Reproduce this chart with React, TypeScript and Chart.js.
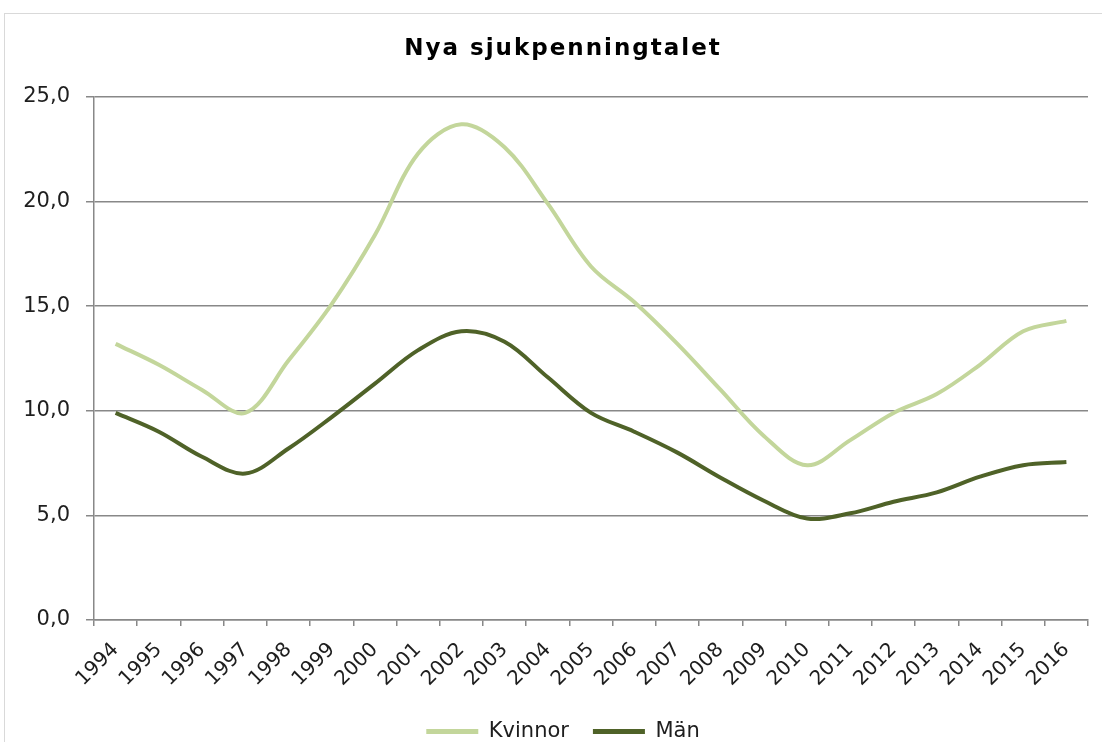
import React, { useEffect, useRef } from "react";
import { Chart, registerables } from "chart.js";

Chart.register(...registerables);

const TITLE = "Nya sjukpenningtalet";
const years = [
  "1994", "1995", "1996", "1997", "1998", "1999", "2000", "2001", "2002", "2003", "2004", "2005",
  "2006", "2007", "2008", "2009", "2010", "2011", "2012", "2013", "2014", "2015", "2016",
];
const kvinnor = [13.2, 12.2, 11.0, 9.9, 12.4, 15.1, 18.4, 22.3, 23.7, 22.6, 19.9, 16.9, 15.2, 13.2, 11.0, 8.8, 7.4, 8.6, 9.9, 10.8, 12.2, 13.8, 14.3];
const man = [9.9, 9.0, 7.8, 7.0, 8.2, 9.7, 11.3, 12.9, 13.8, 13.3, 11.6, 9.9, 9.0, 8.0, 6.8, 5.7, 4.85, 5.1, 5.65, 6.1, 6.85, 7.4, 7.55];
const seriesNames = ["Kvinnor", "Män"];
const seriesColors = ["#c3d69b", "#4f6228"];
const yMin = 0;
const yMax = 25;
const yStep = 5;

const FONT = '"DejaVu Sans", Verdana, sans-serif';
const GRID = "#888888";
const TEXT = "#1e1e1e";
const CENTER_X = 563;

const titlePlugin = {
  id: "wideTitle",
  afterLayout(chart: any) {
    const lg = chart.legend;
    if (lg) {
      const d = CENTER_X - (lg.left + lg.right) / 2;
      lg.left += d;
      lg.right += d;
    }
  },
  afterDraw(chart: any) {
    const ctx = chart.ctx as CanvasRenderingContext2D;
    ctx.save();
    ctx.font = `bold 23px ${FONT}`;
    (ctx as any).letterSpacing = "2px";
    ctx.fillStyle = "#000";
    ctx.textAlign = "center";
    ctx.textBaseline = "alphabetic";
    ctx.fillText(TITLE, CENTER_X, 55);
    ctx.restore();
  },
};

export default function App() {
  const ref = useRef<HTMLCanvasElement | null>(null);

  useEffect(() => {
    if (!ref.current) return;
    const chart = new Chart(ref.current, {
      type: "line",
      data: {
        labels: years,
        datasets: [
          {
            label: seriesNames[0],
            data: kvinnor,
            borderColor: seriesColors[0],
            backgroundColor: seriesColors[0],
            borderWidth: 4,
            pointRadius: 0,
            tension: 0.35,
            fill: false,
          },
          {
            label: seriesNames[1],
            data: man,
            borderColor: seriesColors[1],
            backgroundColor: seriesColors[1],
            borderWidth: 4,
            pointRadius: 0,
            tension: 0.35,
            fill: false,
          },
        ],
      },
      options: {
        animation: false,
        responsive: false,
        maintainAspectRatio: false,
        layout: { padding: { left: 4, right: 14, top: 97, bottom: 0 } },
        plugins: {
          title: { display: false },
          tooltip: { enabled: false },
          legend: {
            position: "bottom",
            labels: {
              boxWidth: 52,
              boxHeight: 5,
              padding: 24,
              color: TEXT,
              font: { size: 21, family: FONT },
              generateLabels: (c: any) =>
                (Chart.defaults.plugins.legend.labels as any)
                  .generateLabels(c)
                  .map((l: any) => ({ ...l, lineWidth: 0, fillStyle: l.strokeStyle })),
            },
          },
        },
        scales: {
          x: {
            offset: true,
            grid: {
              offset: true,
              drawOnChartArea: false,
              drawTicks: true,
              tickLength: 6,
              color: GRID,
              lineWidth: 1.5,
            },
            border: { color: GRID, width: 1.5 },
            ticks: {
              maxRotation: 45,
              minRotation: 45,
              autoSkip: false,
              padding: 12,
              color: TEXT,
              font: { size: 20, family: FONT },
            },
            afterFit: (s: any) => {
              s.height = 77;
            },
          } as any,
          y: {
            min: yMin,
            max: yMax,
            ticks: {
              stepSize: yStep,
              padding: 16,
              color: TEXT,
              font: { size: 21, family: FONT },
              callback: (v: any) => Number(v).toFixed(1).replace(".", ","),
            },
            grid: { color: GRID, lineWidth: 1.5, tickLength: 8 },
            border: { color: GRID, width: 1.5 },
            afterFit: (s: any) => {
              s.width = 90;
            },
          } as any,
        },
      },
      plugins: [titlePlugin],
    });
    return () => chart.destroy();
  }, []);

  return (
    <div
      style={{
        position: "fixed",
        left: 0,
        top: 0,
        width: 1102,
        height: 742,
        overflow: "hidden",
        background: "#fff",
      }}
    >
      <div
        style={{
          position: "absolute",
          left: 4,
          top: 13,
          width: 1200,
          height: 800,
          border: "1px solid #d9d9d9",
        }}
      />
      <canvas
        ref={ref}
        width={1102}
        height={752}
        style={{ position: "absolute", left: 0, top: 0, width: 1102, height: 752 }}
      />
    </div>
  );
}
